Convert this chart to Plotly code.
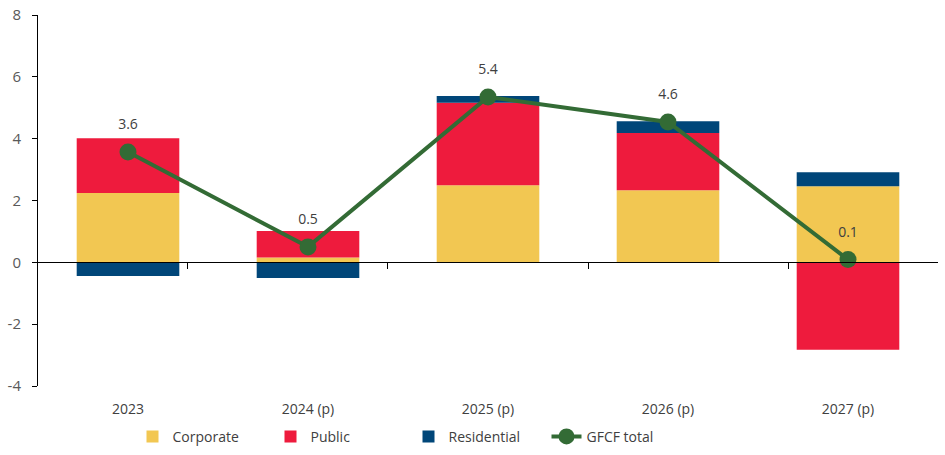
import plotly.graph_objects as go

categories = ["2023", "2024 (p)", "2025 (p)", "2026 (p)", "2027 (p)"]
corporate = [2.24, 0.16, 2.49, 2.33, 2.46]
public = [1.77, 0.85, 2.67, 1.85, -2.83]
residential = [-0.44, -0.51, 0.22, 0.38, 0.45]
gfcf_total = [3.57, 0.50, 5.35, 4.54, 0.09]
gfcf_labels = ["3.6", "0.5", "5.4", "4.6", "0.1"]
y_ticks = [-4, -2, 0, 2, 4, 6, 8]
y_tick_labels = ["-4", "-2", "0", "2", "4", "6", "8"]

FONT = "Open Sans"
fig = go.Figure()
fig.add_trace(go.Bar(x=categories, y=corporate, name="Corporate",
                     marker=dict(color="#F2C752", line=dict(width=0))))
fig.add_trace(go.Bar(x=categories, y=public, name="Public",
                     marker=dict(color="#EE1B3D", line=dict(width=0))))
fig.add_trace(go.Bar(x=categories, y=residential, name="Residential",
                     marker=dict(color="#004679", line=dict(width=0))))
fig.add_trace(go.Scatter(x=categories, y=gfcf_total, name="GFCF total", mode="lines+markers",
                         line=dict(color="#336B35", width=4),
                         marker=dict(color="#336B35", size=17)))
# value labels: transparent larger marker pushes the text above the point
fig.add_trace(go.Scatter(x=categories, y=gfcf_total, mode="markers+text", text=gfcf_labels,
                         textposition="top center", showlegend=False, hoverinfo="skip",
                         marker=dict(size=29, color="rgba(0,0,0,0)"),
                         textfont=dict(size=14, color="#404040", family=FONT)))
# invisible trace to anchor the zero-line axis with boundary ticks
fig.add_trace(go.Scatter(x=categories, y=[None]*5, xaxis="x2", showlegend=False, hoverinfo="skip"))

fig.update_layout(
    width=945, height=455, autosize=False,
    margin=dict(l=38, r=7, t=15, b=69),
    barmode="relative", bargap=0.43,
    plot_bgcolor="white", paper_bgcolor="white",
    font=dict(family=FONT, size=14, color="#595959"),
    showlegend=True,
    legend=dict(orientation="h", x=0.105, xanchor="left", xref="paper",
                y=0.04, yanchor="middle", yref="container",
                entrywidth=93, entrywidthmode="pixels",
                font=dict(size=14, color="#404040", family=FONT)),
    xaxis=dict(type="category", showline=False, ticks="outside", ticklen=10, tickcolor="rgba(0,0,0,0)",
               showgrid=False, zeroline=False, automargin=False,
               tickfont=dict(size=14, color="#404040")),
    xaxis2=dict(type="category", overlaying="x", anchor="free", position=1/3, side="bottom",
                showline=True, linecolor="black", linewidth=1.3,
                ticks="outside", tickson="boundaries", ticklen=6, tickcolor="black",
                showticklabels=False, showgrid=False, zeroline=False, automargin=False),
    yaxis=dict(range=[-4, 8], tickvals=y_ticks, ticktext=y_tick_labels,
               showline=True, linecolor="black", linewidth=1, automargin=False,
               ticks="outside", ticklen=5, tickcolor="black", showgrid=False, zeroline=False,
               ticklabelstandoff=8, tickfont=dict(size=15, color="#595959")),
)
post = ("document.documentElement.style.margin='0';document.body.style.margin='0';"
        "document.body.style.padding='0';"
        "var gd=document.getElementById('{plot_id}');"
        "Plotly.relayout(gd,{width:945,height:455});")
fig.write_html("out.html", post_script=post, config={"displayModeBar": False})
